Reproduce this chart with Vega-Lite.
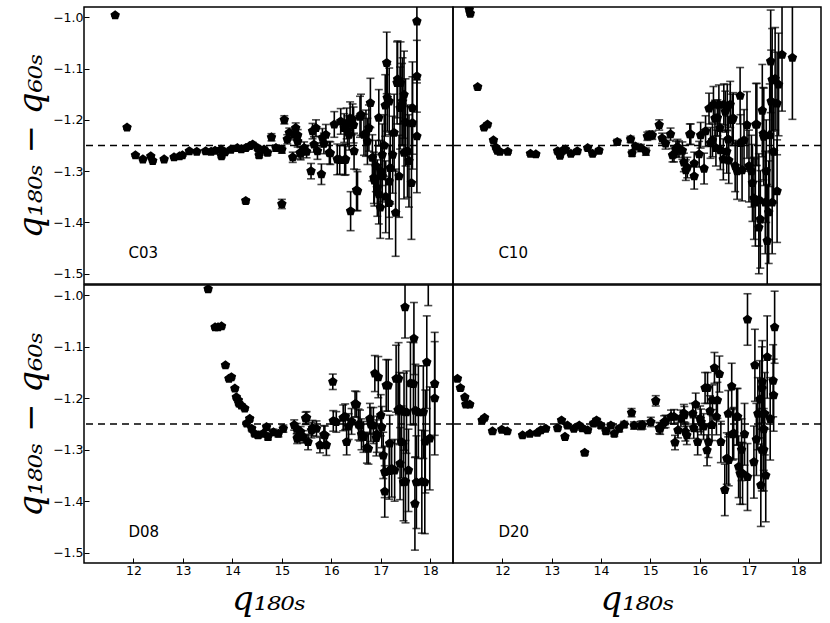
{
  "$schema": "https://vega.github.io/schema/vega-lite/v6.json",
  "background": "white",
  "padding": {"left": 13, "top": 6, "right": 5, "bottom": 5},
  "datasets": {
    "pts": [
      {"p":"C03","x":11.63,"y":-0.996,"e":0.002},{"p":"C03","x":11.87,"y":-1.215,"e":0.003},{"p":"C03","x":12.04,"y":-1.269,"e":0.002},
      {"p":"C03","x":12.19,"y":-1.277,"e":0.002},{"p":"C03","x":12.35,"y":-1.271,"e":0.002},{"p":"C03","x":12.39,"y":-1.280,"e":0.002},
      {"p":"C03","x":12.62,"y":-1.277,"e":0.002},{"p":"C03","x":12.82,"y":-1.273,"e":0.002},{"p":"C03","x":12.93,"y":-1.271,"e":0.002},
      {"p":"C03","x":12.99,"y":-1.269,"e":0.002},{"p":"C03","x":13.13,"y":-1.261,"e":0.002},{"p":"C03","x":13.28,"y":-1.262,"e":0.002},
      {"p":"C03","x":13.46,"y":-1.261,"e":0.003},{"p":"C03","x":13.57,"y":-1.262,"e":0.003},{"p":"C03","x":13.65,"y":-1.260,"e":0.003},
      {"p":"C03","x":13.77,"y":-1.258,"e":0.003},{"p":"C03","x":13.78,"y":-1.271,"e":0.003},{"p":"C03","x":13.85,"y":-1.263,"e":0.003},
      {"p":"C03","x":13.97,"y":-1.258,"e":0.003},{"p":"C03","x":14.10,"y":-1.255,"e":0.003},{"p":"C03","x":14.18,"y":-1.257,"e":0.003},
      {"p":"C03","x":14.27,"y":-1.255,"e":0.004},{"p":"C03","x":14.27,"y":-1.358,"e":0.004},{"p":"C03","x":14.35,"y":-1.251,"e":0.004},
      {"p":"C03","x":14.41,"y":-1.248,"e":0.004},{"p":"C03","x":14.51,"y":-1.255,"e":0.004},{"p":"C03","x":14.54,"y":-1.269,"e":0.005},
      {"p":"C03","x":14.64,"y":-1.258,"e":0.005},{"p":"C03","x":14.71,"y":-1.264,"e":0.005},{"p":"C03","x":14.79,"y":-1.234,"e":0.007},
      {"p":"C03","x":14.88,"y":-1.255,"e":0.006},{"p":"C03","x":15.00,"y":-1.258,"e":0.007},{"p":"C03","x":15.00,"y":-1.364,"e":0.009},
      {"p":"C03","x":15.05,"y":-1.200,"e":0.008},{"p":"C03","x":15.11,"y":-1.238,"e":0.009},{"p":"C03","x":15.15,"y":-1.225,"e":0.009},
      {"p":"C03","x":15.22,"y":-1.273,"e":0.010},{"p":"C03","x":15.25,"y":-1.229,"e":0.010},{"p":"C03","x":15.28,"y":-1.216,"e":0.010},
      {"p":"C03","x":15.32,"y":-1.242,"e":0.011},{"p":"C03","x":15.37,"y":-1.264,"e":0.012},{"p":"C03","x":15.45,"y":-1.255,"e":0.012},
      {"p":"C03","x":15.50,"y":-1.262,"e":0.012},{"p":"C03","x":15.59,"y":-1.300,"e":0.015},{"p":"C03","x":15.62,"y":-1.222,"e":0.015},
      {"p":"C03","x":15.65,"y":-1.248,"e":0.015},{"p":"C03","x":15.69,"y":-1.216,"e":0.016},{"p":"C03","x":15.72,"y":-1.261,"e":0.016},
      {"p":"C03","x":15.80,"y":-1.306,"e":0.020},{"p":"C03","x":15.82,"y":-1.235,"e":0.018},{"p":"C03","x":15.89,"y":-1.229,"e":0.020},
      {"p":"C03","x":15.96,"y":-1.264,"e":0.022},{"p":"C03","x":16.06,"y":-1.209,"e":0.025},{"p":"C03","x":16.12,"y":-1.277,"e":0.030},
      {"p":"C03","x":16.19,"y":-1.203,"e":0.025},{"p":"C03","x":16.26,"y":-1.216,"e":0.028},{"p":"C03","x":16.29,"y":-1.277,"e":0.030},
      {"p":"C03","x":16.33,"y":-1.222,"e":0.030},{"p":"C03","x":16.36,"y":-1.229,"e":0.030},{"p":"C03","x":16.39,"y":-1.378,"e":0.038},
      {"p":"C03","x":16.43,"y":-1.199,"e":0.030},{"p":"C03","x":16.46,"y":-1.261,"e":0.035},{"p":"C03","x":16.53,"y":-1.339,"e":0.038},
      {"p":"C03","x":16.60,"y":-1.190,"e":0.040},{"p":"C03","x":16.66,"y":-1.229,"e":0.040},{"p":"C03","x":16.73,"y":-1.242,"e":0.045},
      {"p":"C03","x":16.76,"y":-1.216,"e":0.045},{"p":"C03","x":16.79,"y":-1.167,"e":0.048},{"p":"C03","x":16.83,"y":-1.274,"e":0.045},
      {"p":"C03","x":16.86,"y":-1.313,"e":0.050},{"p":"C03","x":16.90,"y":-1.290,"e":0.050},{"p":"C03","x":16.93,"y":-1.333,"e":0.055},
      {"p":"C03","x":16.96,"y":-1.345,"e":0.058},{"p":"C03","x":16.99,"y":-1.371,"e":0.060},{"p":"C03","x":17.03,"y":-1.310,"e":0.060},
      {"p":"C03","x":17.07,"y":-1.250,"e":0.060},{"p":"C03","x":17.12,"y":-1.089,"e":0.060},{"p":"C03","x":17.13,"y":-1.157,"e":0.065},
      {"p":"C03","x":17.17,"y":-1.164,"e":0.065},{"p":"C03","x":17.17,"y":-1.320,"e":0.070},{"p":"C03","x":17.17,"y":-1.362,"e":0.070},
      {"p":"C03","x":17.24,"y":-1.268,"e":0.075},{"p":"C03","x":17.27,"y":-1.225,"e":0.075},{"p":"C03","x":17.30,"y":-1.381,"e":0.085},
      {"p":"C03","x":17.34,"y":-1.121,"e":0.075},{"p":"C03","x":17.37,"y":-1.310,"e":0.080},{"p":"C03","x":17.40,"y":-1.128,"e":0.080},
      {"p":"C03","x":17.43,"y":-1.170,"e":0.080},{"p":"C03","x":17.47,"y":-1.151,"e":0.085},{"p":"C03","x":17.50,"y":-1.205,"e":0.085},
      {"p":"C03","x":17.54,"y":-1.261,"e":0.090},{"p":"C03","x":17.57,"y":-1.280,"e":0.090},{"p":"C03","x":17.62,"y":-1.323,"e":0.110},
      {"p":"C03","x":17.64,"y":-1.177,"e":0.090},{"p":"C03","x":17.64,"y":-1.206,"e":0.090},{"p":"C03","x":17.73,"y":-1.115,"e":0.070},
      {"p":"C03","x":17.73,"y":-1.232,"e":0.110},{"p":"C03","x":17.73,"y":-1.008,"e":0.120},
      {"p":"C03","x":15.32,"y":-1.230,"e":0.011},{"p":"C03","x":15.38,"y":-1.266,"e":0.012},{"p":"C03","x":15.85,"y":-1.246,"e":0.020},
      {"p":"C03","x":15.98,"y":-1.265,"e":0.022},{"p":"C03","x":16.17,"y":-1.278,"e":0.028},{"p":"C03","x":16.27,"y":-1.278,"e":0.030},
      {"p":"C03","x":16.31,"y":-1.207,"e":0.030},{"p":"C03","x":16.38,"y":-1.197,"e":0.032},{"p":"C03","x":16.45,"y":-1.210,"e":0.035},
      {"p":"C03","x":16.51,"y":-1.337,"e":0.040},{"p":"C03","x":16.58,"y":-1.194,"e":0.040},{"p":"C03","x":16.70,"y":-1.226,"e":0.045},
      {"p":"C03","x":16.87,"y":-1.318,"e":0.050},{"p":"C03","x":16.96,"y":-1.196,"e":0.055},{"p":"C03","x":17.03,"y":-1.268,"e":0.060},
      {"p":"C03","x":17.09,"y":-1.172,"e":0.060},{"p":"C03","x":17.19,"y":-1.294,"e":0.070},{"p":"C03","x":17.33,"y":-1.128,"e":0.080},
      {"p":"C03","x":17.39,"y":-1.177,"e":0.080},{"p":"C03","x":17.44,"y":-1.164,"e":0.085},{"p":"C03","x":17.47,"y":-1.264,"e":0.090},
      {"p":"C03","x":17.00,"y":-1.300,"e":0.060},{"p":"C03","x":17.10,"y":-1.350,"e":0.070},

      {"p":"C10","x":11.33,"y":-0.985,"e":0.003},{"p":"C10","x":11.35,"y":-0.993,"e":0.003},{"p":"C10","x":11.50,"y":-1.136,"e":0.003},
      {"p":"C10","x":11.63,"y":-1.215,"e":0.003},{"p":"C10","x":11.70,"y":-1.209,"e":0.003},{"p":"C10","x":11.82,"y":-1.240,"e":0.003},
      {"p":"C10","x":11.87,"y":-1.254,"e":0.003},{"p":"C10","x":11.90,"y":-1.260,"e":0.003},{"p":"C10","x":11.95,"y":-1.262,"e":0.003},
      {"p":"C10","x":12.11,"y":-1.262,"e":0.003},{"p":"C10","x":12.57,"y":-1.266,"e":0.003},{"p":"C10","x":12.68,"y":-1.267,"e":0.003},
      {"p":"C10","x":13.12,"y":-1.261,"e":0.003},{"p":"C10","x":13.17,"y":-1.270,"e":0.003},{"p":"C10","x":13.22,"y":-1.260,"e":0.003},
      {"p":"C10","x":13.28,"y":-1.258,"e":0.003},{"p":"C10","x":13.39,"y":-1.266,"e":0.003},{"p":"C10","x":13.52,"y":-1.261,"e":0.003},
      {"p":"C10","x":13.73,"y":-1.255,"e":0.003},{"p":"C10","x":13.83,"y":-1.266,"e":0.003},{"p":"C10","x":13.96,"y":-1.260,"e":0.004},
      {"p":"C10","x":14.33,"y":-1.243,"e":0.005},{"p":"C10","x":14.60,"y":-1.238,"e":0.006},{"p":"C10","x":14.63,"y":-1.265,"e":0.006},
      {"p":"C10","x":14.70,"y":-1.252,"e":0.006},{"p":"C10","x":14.81,"y":-1.255,"e":0.007},{"p":"C10","x":14.91,"y":-1.262,"e":0.007},
      {"p":"C10","x":14.94,"y":-1.232,"e":0.008},{"p":"C10","x":15.04,"y":-1.230,"e":0.008},{"p":"C10","x":15.18,"y":-1.210,"e":0.010},
      {"p":"C10","x":15.24,"y":-1.236,"e":0.010},{"p":"C10","x":15.31,"y":-1.246,"e":0.011},{"p":"C10","x":15.41,"y":-1.228,"e":0.012},
      {"p":"C10","x":15.48,"y":-1.267,"e":0.015},{"p":"C10","x":15.52,"y":-1.257,"e":0.015},{"p":"C10","x":15.58,"y":-1.257,"e":0.016},
      {"p":"C10","x":15.65,"y":-1.260,"e":0.017},{"p":"C10","x":15.68,"y":-1.283,"e":0.018},{"p":"C10","x":15.75,"y":-1.293,"e":0.020},
      {"p":"C10","x":15.80,"y":-1.228,"e":0.020},{"p":"C10","x":15.89,"y":-1.285,"e":0.022},{"p":"C10","x":15.89,"y":-1.310,"e":0.025},
      {"p":"C10","x":15.99,"y":-1.267,"e":0.025},{"p":"C10","x":16.02,"y":-1.230,"e":0.025},{"p":"C10","x":16.09,"y":-1.295,"e":0.030},
      {"p":"C10","x":16.12,"y":-1.222,"e":0.030},{"p":"C10","x":16.19,"y":-1.178,"e":0.030},{"p":"C10","x":16.22,"y":-1.245,"e":0.030},
      {"p":"C10","x":16.28,"y":-1.170,"e":0.035},{"p":"C10","x":16.31,"y":-1.197,"e":0.035},{"p":"C10","x":16.33,"y":-1.255,"e":0.035},
      {"p":"C10","x":16.39,"y":-1.170,"e":0.038},{"p":"C10","x":16.41,"y":-1.216,"e":0.038},{"p":"C10","x":16.48,"y":-1.277,"e":0.040},
      {"p":"C10","x":16.52,"y":-1.184,"e":0.040},{"p":"C10","x":16.55,"y":-1.262,"e":0.042},{"p":"C10","x":16.58,"y":-1.238,"e":0.045},
      {"p":"C10","x":16.62,"y":-1.170,"e":0.045},{"p":"C10","x":16.68,"y":-1.197,"e":0.050},{"p":"C10","x":16.72,"y":-1.290,"e":0.050},
      {"p":"C10","x":16.76,"y":-1.300,"e":0.055},{"p":"C10","x":16.82,"y":-1.153,"e":0.055},{"p":"C10","x":16.83,"y":-1.245,"e":0.055},
      {"p":"C10","x":16.86,"y":-1.298,"e":0.060},{"p":"C10","x":16.96,"y":-1.210,"e":0.065},{"p":"C10","x":17.00,"y":-1.290,"e":0.070},
      {"p":"C10","x":17.07,"y":-1.323,"e":0.075},{"p":"C10","x":17.10,"y":-1.353,"e":0.080},{"p":"C10","x":17.13,"y":-1.361,"e":0.085},
      {"p":"C10","x":17.14,"y":-1.209,"e":0.080},{"p":"C10","x":17.20,"y":-1.410,"e":0.090},{"p":"C10","x":17.23,"y":-1.394,"e":0.095},
      {"p":"C10","x":17.27,"y":-1.182,"e":0.090},{"p":"C10","x":17.30,"y":-1.233,"e":0.095},{"p":"C10","x":17.33,"y":-1.361,"e":0.100},
      {"p":"C10","x":17.37,"y":-1.436,"e":0.110},{"p":"C10","x":17.40,"y":-1.380,"e":0.100},{"p":"C10","x":17.44,"y":-1.086,"e":0.100},
      {"p":"C10","x":17.45,"y":-1.164,"e":0.100},{"p":"C10","x":17.47,"y":-1.122,"e":0.100},{"p":"C10","x":17.47,"y":-1.361,"e":0.100},
      {"p":"C10","x":17.50,"y":-1.262,"e":0.100},{"p":"C10","x":17.57,"y":-1.339,"e":0.100},{"p":"C10","x":17.60,"y":-1.131,"e":0.100},
      {"p":"C10","x":17.67,"y":-1.073,"e":0.110},{"p":"C10","x":17.88,"y":-1.079,"e":0.120},
      {"p":"C10","x":14.98,"y":-1.230,"e":0.008},{"p":"C10","x":15.45,"y":-1.269,"e":0.013},{"p":"C10","x":15.55,"y":-1.253,"e":0.015},
      {"p":"C10","x":15.72,"y":-1.298,"e":0.020},{"p":"C10","x":15.82,"y":-1.228,"e":0.020},{"p":"C10","x":16.26,"y":-1.240,"e":0.032},
      {"p":"C10","x":16.36,"y":-1.196,"e":0.035},{"p":"C10","x":16.42,"y":-1.259,"e":0.038},{"p":"C10","x":16.49,"y":-1.170,"e":0.040},
      {"p":"C10","x":16.56,"y":-1.176,"e":0.045},{"p":"C10","x":16.59,"y":-1.279,"e":0.045},{"p":"C10","x":16.66,"y":-1.200,"e":0.050},
      {"p":"C10","x":16.90,"y":-1.240,"e":0.060},{"p":"C10","x":17.05,"y":-1.300,"e":0.070},{"p":"C10","x":17.16,"y":-1.209,"e":0.080},
      {"p":"C10","x":17.20,"y":-1.356,"e":0.090},{"p":"C10","x":17.29,"y":-1.227,"e":0.090},{"p":"C10","x":17.35,"y":-1.300,"e":0.100},
      {"p":"C10","x":17.53,"y":-1.120,"e":0.100},{"p":"C10","x":17.57,"y":-1.168,"e":0.100},{"p":"C10","x":17.42,"y":-1.230,"e":0.100},

      {"p":"D08","x":13.51,"y":-0.988,"e":0.003},{"p":"D08","x":13.65,"y":-1.062,"e":0.003},{"p":"D08","x":13.71,"y":-1.062,"e":0.003},
      {"p":"D08","x":13.78,"y":-1.060,"e":0.003},{"p":"D08","x":13.86,"y":-1.136,"e":0.003},{"p":"D08","x":13.93,"y":-1.162,"e":0.003},
      {"p":"D08","x":13.98,"y":-1.159,"e":0.003},{"p":"D08","x":14.05,"y":-1.181,"e":0.003},{"p":"D08","x":14.08,"y":-1.198,"e":0.003},
      {"p":"D08","x":14.12,"y":-1.204,"e":0.003},{"p":"D08","x":14.13,"y":-1.210,"e":0.003},{"p":"D08","x":14.18,"y":-1.214,"e":0.003},
      {"p":"D08","x":14.25,"y":-1.220,"e":0.003},{"p":"D08","x":14.29,"y":-1.249,"e":0.004},{"p":"D08","x":14.35,"y":-1.240,"e":0.004},
      {"p":"D08","x":14.39,"y":-1.259,"e":0.004},{"p":"D08","x":14.45,"y":-1.269,"e":0.004},{"p":"D08","x":14.52,"y":-1.272,"e":0.005},
      {"p":"D08","x":14.62,"y":-1.269,"e":0.005},{"p":"D08","x":14.69,"y":-1.256,"e":0.005},{"p":"D08","x":14.72,"y":-1.275,"e":0.006},
      {"p":"D08","x":14.83,"y":-1.266,"e":0.006},{"p":"D08","x":14.93,"y":-1.269,"e":0.006},{"p":"D08","x":15.03,"y":-1.259,"e":0.007},
      {"p":"D08","x":15.30,"y":-1.259,"e":0.010},{"p":"D08","x":15.33,"y":-1.275,"e":0.010},{"p":"D08","x":15.38,"y":-1.265,"e":0.010},
      {"p":"D08","x":15.43,"y":-1.275,"e":0.012},{"p":"D08","x":15.50,"y":-1.238,"e":0.012},{"p":"D08","x":15.53,"y":-1.285,"e":0.015},
      {"p":"D08","x":15.60,"y":-1.262,"e":0.015},{"p":"D08","x":15.70,"y":-1.259,"e":0.015},{"p":"D08","x":15.77,"y":-1.291,"e":0.015},
      {"p":"D08","x":15.87,"y":-1.272,"e":0.018},{"p":"D08","x":15.90,"y":-1.291,"e":0.020},{"p":"D08","x":16.03,"y":-1.168,"e":0.015},
      {"p":"D08","x":16.10,"y":-1.246,"e":0.020},{"p":"D08","x":16.28,"y":-1.236,"e":0.025},{"p":"D08","x":16.31,"y":-1.285,"e":0.025},
      {"p":"D08","x":16.35,"y":-1.255,"e":0.025},{"p":"D08","x":16.41,"y":-1.245,"e":0.025},{"p":"D08","x":16.51,"y":-1.212,"e":0.025},
      {"p":"D08","x":16.58,"y":-1.253,"e":0.030},{"p":"D08","x":16.65,"y":-1.275,"e":0.030},{"p":"D08","x":16.75,"y":-1.298,"e":0.030},
      {"p":"D08","x":16.78,"y":-1.240,"e":0.030},{"p":"D08","x":16.85,"y":-1.253,"e":0.035},{"p":"D08","x":16.88,"y":-1.152,"e":0.035},
      {"p":"D08","x":16.92,"y":-1.270,"e":0.035},{"p":"D08","x":16.95,"y":-1.159,"e":0.040},{"p":"D08","x":17.02,"y":-1.256,"e":0.040},
      {"p":"D08","x":17.05,"y":-1.311,"e":0.045},{"p":"D08","x":17.08,"y":-1.343,"e":0.050},{"p":"D08","x":17.08,"y":-1.381,"e":0.050},
      {"p":"D08","x":17.15,"y":-1.175,"e":0.050},{"p":"D08","x":17.18,"y":-1.288,"e":0.055},{"p":"D08","x":17.22,"y":-1.337,"e":0.055},
      {"p":"D08","x":17.28,"y":-1.340,"e":0.060},{"p":"D08","x":17.35,"y":-1.223,"e":0.065},{"p":"D08","x":17.36,"y":-1.162,"e":0.070},
      {"p":"D08","x":17.39,"y":-1.327,"e":0.070},{"p":"D08","x":17.42,"y":-1.285,"e":0.070},{"p":"D08","x":17.46,"y":-1.363,"e":0.075},
      {"p":"D08","x":17.49,"y":-1.023,"e":0.060},{"p":"D08","x":17.52,"y":-1.227,"e":0.080},{"p":"D08","x":17.56,"y":-1.340,"e":0.080},
      {"p":"D08","x":17.66,"y":-1.172,"e":0.080},{"p":"D08","x":17.67,"y":-1.084,"e":0.070},{"p":"D08","x":17.69,"y":-1.405,"e":0.090},
      {"p":"D08","x":17.72,"y":-1.363,"e":0.090},{"p":"D08","x":17.76,"y":-1.227,"e":0.090},{"p":"D08","x":17.86,"y":-1.227,"e":0.090},
      {"p":"D08","x":17.89,"y":-1.363,"e":0.100},{"p":"D08","x":17.93,"y":-1.130,"e":0.090},{"p":"D08","x":17.96,"y":-0.950,"e":0.070},
      {"p":"D08","x":17.99,"y":-1.278,"e":0.100},{"p":"D08","x":18.09,"y":-1.172,"e":0.100},{"p":"D08","x":18.09,"y":-1.200,"e":0.110},
      {"p":"D08","x":15.25,"y":-1.252,"e":0.010},{"p":"D08","x":15.31,"y":-1.278,"e":0.010},{"p":"D08","x":15.48,"y":-1.239,"e":0.012},
      {"p":"D08","x":15.62,"y":-1.258,"e":0.015},{"p":"D08","x":15.85,"y":-1.271,"e":0.018},{"p":"D08","x":16.04,"y":-1.244,"e":0.020},
      {"p":"D08","x":16.24,"y":-1.238,"e":0.025},{"p":"D08","x":16.48,"y":-1.211,"e":0.025},{"p":"D08","x":16.55,"y":-1.251,"e":0.030},
      {"p":"D08","x":16.61,"y":-1.270,"e":0.030},{"p":"D08","x":16.72,"y":-1.296,"e":0.030},{"p":"D08","x":16.80,"y":-1.251,"e":0.033},
      {"p":"D08","x":16.91,"y":-1.277,"e":0.035},{"p":"D08","x":17.00,"y":-1.233,"e":0.040},{"p":"D08","x":17.11,"y":-1.175,"e":0.050},
      {"p":"D08","x":17.17,"y":-1.341,"e":0.055},{"p":"D08","x":17.31,"y":-1.162,"e":0.065},{"p":"D08","x":17.38,"y":-1.220,"e":0.070},
      {"p":"D08","x":17.47,"y":-1.226,"e":0.075},{"p":"D08","x":17.50,"y":-1.362,"e":0.080},{"p":"D08","x":17.60,"y":-1.171,"e":0.080},
      {"p":"D08","x":17.70,"y":-1.224,"e":0.090},{"p":"D08","x":17.83,"y":-1.362,"e":0.100},{"p":"D08","x":17.90,"y":-1.284,"e":0.100},

      {"p":"D20","x":11.09,"y":-1.162,"e":0.003},{"p":"D20","x":11.15,"y":-1.180,"e":0.003},{"p":"D20","x":11.24,"y":-1.198,"e":0.003},
      {"p":"D20","x":11.26,"y":-1.212,"e":0.003},{"p":"D20","x":11.34,"y":-1.212,"e":0.003},{"p":"D20","x":11.59,"y":-1.243,"e":0.003},
      {"p":"D20","x":11.64,"y":-1.238,"e":0.003},{"p":"D20","x":11.80,"y":-1.264,"e":0.003},{"p":"D20","x":11.99,"y":-1.261,"e":0.003},
      {"p":"D20","x":12.10,"y":-1.264,"e":0.003},{"p":"D20","x":12.41,"y":-1.272,"e":0.003},{"p":"D20","x":12.56,"y":-1.269,"e":0.003},
      {"p":"D20","x":12.71,"y":-1.267,"e":0.003},{"p":"D20","x":12.78,"y":-1.262,"e":0.003},{"p":"D20","x":12.88,"y":-1.259,"e":0.003},
      {"p":"D20","x":13.12,"y":-1.258,"e":0.003},{"p":"D20","x":13.20,"y":-1.243,"e":0.003},{"p":"D20","x":13.27,"y":-1.275,"e":0.003},
      {"p":"D20","x":13.32,"y":-1.253,"e":0.003},{"p":"D20","x":13.45,"y":-1.259,"e":0.003},{"p":"D20","x":13.56,"y":-1.253,"e":0.004},
      {"p":"D20","x":13.62,"y":-1.258,"e":0.004},{"p":"D20","x":13.67,"y":-1.306,"e":0.004},{"p":"D20","x":13.73,"y":-1.262,"e":0.004},
      {"p":"D20","x":13.85,"y":-1.249,"e":0.004},{"p":"D20","x":13.91,"y":-1.243,"e":0.004},{"p":"D20","x":14.00,"y":-1.253,"e":0.005},
      {"p":"D20","x":14.10,"y":-1.264,"e":0.005},{"p":"D20","x":14.20,"y":-1.253,"e":0.005},{"p":"D20","x":14.27,"y":-1.269,"e":0.005},
      {"p":"D20","x":14.37,"y":-1.259,"e":0.006},{"p":"D20","x":14.47,"y":-1.251,"e":0.006},{"p":"D20","x":14.62,"y":-1.228,"e":0.008},
      {"p":"D20","x":14.67,"y":-1.253,"e":0.007},{"p":"D20","x":14.81,"y":-1.253,"e":0.008},{"p":"D20","x":15.01,"y":-1.246,"e":0.009},
      {"p":"D20","x":15.11,"y":-1.205,"e":0.010},{"p":"D20","x":15.20,"y":-1.259,"e":0.011},{"p":"D20","x":15.28,"y":-1.246,"e":0.012},
      {"p":"D20","x":15.42,"y":-1.236,"e":0.013},{"p":"D20","x":15.50,"y":-1.286,"e":0.014},{"p":"D20","x":15.56,"y":-1.262,"e":0.015},
      {"p":"D20","x":15.62,"y":-1.239,"e":0.016},{"p":"D20","x":15.69,"y":-1.233,"e":0.017},{"p":"D20","x":15.74,"y":-1.272,"e":0.018},
      {"p":"D20","x":15.86,"y":-1.230,"e":0.020},{"p":"D20","x":15.92,"y":-1.212,"e":0.022},{"p":"D20","x":15.96,"y":-1.285,"e":0.025},
      {"p":"D20","x":16.03,"y":-1.246,"e":0.025},{"p":"D20","x":16.08,"y":-1.255,"e":0.025},{"p":"D20","x":16.15,"y":-1.301,"e":0.030},
      {"p":"D20","x":16.16,"y":-1.180,"e":0.030},{"p":"D20","x":16.21,"y":-1.225,"e":0.030},{"p":"D20","x":16.25,"y":-1.252,"e":0.030},
      {"p":"D20","x":16.30,"y":-1.141,"e":0.030},{"p":"D20","x":16.36,"y":-1.204,"e":0.035},{"p":"D20","x":16.40,"y":-1.153,"e":0.035},
      {"p":"D20","x":16.43,"y":-1.285,"e":0.040},{"p":"D20","x":16.51,"y":-1.378,"e":0.050},{"p":"D20","x":16.55,"y":-1.317,"e":0.050},
      {"p":"D20","x":16.58,"y":-1.230,"e":0.045},{"p":"D20","x":16.65,"y":-1.177,"e":0.045},{"p":"D20","x":16.67,"y":-1.270,"e":0.050},
      {"p":"D20","x":16.77,"y":-1.236,"e":0.055},{"p":"D20","x":16.82,"y":-1.346,"e":0.060},{"p":"D20","x":16.87,"y":-1.346,"e":0.060},
      {"p":"D20","x":16.91,"y":-1.270,"e":0.060},{"p":"D20","x":16.97,"y":-1.353,"e":0.065},{"p":"D20","x":16.97,"y":-1.047,"e":0.050},
      {"p":"D20","x":17.10,"y":-1.324,"e":0.070},{"p":"D20","x":17.12,"y":-1.136,"e":0.070},{"p":"D20","x":17.18,"y":-1.230,"e":0.070},
      {"p":"D20","x":17.22,"y":-1.202,"e":0.075},{"p":"D20","x":17.24,"y":-1.369,"e":0.080},{"p":"D20","x":17.26,"y":-1.300,"e":0.080},
      {"p":"D20","x":17.27,"y":-1.168,"e":0.080},{"p":"D20","x":17.30,"y":-1.260,"e":0.080},{"p":"D20","x":17.34,"y":-1.350,"e":0.090},
      {"p":"D20","x":17.37,"y":-1.120,"e":0.080},{"p":"D20","x":17.43,"y":-1.240,"e":0.080},{"p":"D20","x":17.49,"y":-1.166,"e":0.070},
      {"p":"D20","x":17.50,"y":-1.194,"e":0.070},{"p":"D20","x":17.52,"y":-1.062,"e":0.070},
      {"p":"D20","x":14.84,"y":-1.252,"e":0.008},{"p":"D20","x":15.18,"y":-1.258,"e":0.011},{"p":"D20","x":15.31,"y":-1.245,"e":0.012},
      {"p":"D20","x":15.48,"y":-1.236,"e":0.014},{"p":"D20","x":15.68,"y":-1.229,"e":0.017},{"p":"D20","x":15.71,"y":-1.265,"e":0.018},
      {"p":"D20","x":15.88,"y":-1.258,"e":0.020},{"p":"D20","x":16.01,"y":-1.240,"e":0.025},{"p":"D20","x":16.11,"y":-1.180,"e":0.030},
      {"p":"D20","x":16.18,"y":-1.285,"e":0.030},{"p":"D20","x":16.26,"y":-1.204,"e":0.030},{"p":"D20","x":16.34,"y":-1.236,"e":0.035},
      {"p":"D20","x":16.59,"y":-1.320,"e":0.050},{"p":"D20","x":16.69,"y":-1.268,"e":0.050},{"p":"D20","x":16.75,"y":-1.236,"e":0.055},
      {"p":"D20","x":16.79,"y":-1.333,"e":0.060},{"p":"D20","x":16.85,"y":-1.300,"e":0.060},{"p":"D20","x":17.15,"y":-1.280,"e":0.070},
      {"p":"D20","x":17.26,"y":-1.180,"e":0.080},{"p":"D20","x":17.30,"y":-1.300,"e":0.080},{"p":"D20","x":17.32,"y":-1.230,"e":0.080}
    ]
  },
  "spacing": -2,
  "vconcat": [
    {
      "bounds": "flush",
      "spacing": 0,
      "hconcat": [
        {
          "width": 369, "height": 277,
          "layer": [
            {"data": {"name": "pts"}, "transform": [{"filter": "datum.p === 'C03'"}],
             "mark": {"type": "errorbar", "ticks": {"size": 8, "color": "black", "strokeWidth": 1.3}, "rule": {"strokeWidth": 1.6}, "thickness": 1.6, "color": "black", "clip": true},
             "encoding": {
               "x": {"field": "x", "type": "quantitative", "scale": {"domain": [11, 18.46], "nice": false, "zero": false}, "axis": null},
               "y": {"field": "y", "type": "quantitative", "scale": {"domain": [-1.52, -0.98], "nice": false, "zero": false},
                     "axis": {"values": [-1.5, -1.4, -1.3, -1.2, -1.1, -1.0], "format": ".1f", "title": "q₁₈₀ₛ − q₆₀ₛ"}},
               "yError": {"field": "e"}}},
            {"data": {"name": "pts"}, "transform": [{"filter": "datum.p === 'C03'"}],
             "mark": {"type": "point", "shape": "M0,-1L0.951,-0.309L0.588,0.809L-0.588,0.809L-0.951,-0.309Z", "filled": true, "size": 100, "color": "black", "opacity": 1, "clip": true},
             "encoding": {
               "x": {"field": "x", "type": "quantitative", "scale": {"domain": [11, 18.46], "nice": false, "zero": false}},
               "y": {"field": "y", "type": "quantitative", "scale": {"domain": [-1.52, -0.98], "nice": false, "zero": false}}}},
            {"data": {"values": [{"level": -1.25}]},
             "mark": {"type": "rule", "strokeDash": [7, 5], "strokeWidth": 1.3, "color": "black"},
             "encoding": {"y": {"field": "level", "type": "quantitative", "scale": {"domain": [-1.52, -0.98], "nice": false, "zero": false}}}},
            {"data": {"values": [{"name": "C03"}]},
             "mark": {"type": "text", "align": "left", "baseline": "middle", "fontSize": 15, "font": "DejaVu Sans", "color": "black"},
             "encoding": {"x": {"datum": 11.9, "type": "quantitative"}, "y": {"datum": -1.46, "type": "quantitative"}, "text": {"field": "name"}}}
          ]
        },
        {
          "width": 368, "height": 277,
          "layer": [
            {"data": {"name": "pts"}, "transform": [{"filter": "datum.p === 'C10'"}],
             "mark": {"type": "errorbar", "ticks": {"size": 8, "color": "black", "strokeWidth": 1.3}, "rule": {"strokeWidth": 1.6}, "thickness": 1.6, "color": "black", "clip": true},
             "encoding": {
               "x": {"field": "x", "type": "quantitative", "scale": {"domain": [11, 18.46], "nice": false, "zero": false}, "axis": null},
               "y": {"field": "y", "type": "quantitative", "scale": {"domain": [-1.52, -0.98], "nice": false, "zero": false}, "axis": null},
               "yError": {"field": "e"}}},
            {"data": {"name": "pts"}, "transform": [{"filter": "datum.p === 'C10'"}],
             "mark": {"type": "point", "shape": "M0,-1L0.951,-0.309L0.588,0.809L-0.588,0.809L-0.951,-0.309Z", "filled": true, "size": 100, "color": "black", "opacity": 1, "clip": true},
             "encoding": {
               "x": {"field": "x", "type": "quantitative", "scale": {"domain": [11, 18.46], "nice": false, "zero": false}},
               "y": {"field": "y", "type": "quantitative", "scale": {"domain": [-1.52, -0.98], "nice": false, "zero": false}}}},
            {"data": {"values": [{"level": -1.25}]},
             "mark": {"type": "rule", "strokeDash": [7, 5], "strokeWidth": 1.3, "color": "black"},
             "encoding": {"y": {"field": "level", "type": "quantitative", "scale": {"domain": [-1.52, -0.98], "nice": false, "zero": false}}}},
            {"data": {"values": [{"name": "C10"}]},
             "mark": {"type": "text", "align": "left", "baseline": "middle", "fontSize": 15, "font": "DejaVu Sans", "color": "black"},
             "encoding": {"x": {"datum": 11.92, "type": "quantitative"}, "y": {"datum": -1.46, "type": "quantitative"}, "text": {"field": "name"}}}
          ]
        }
      ]
    },
    {
      "bounds": "flush",
      "spacing": 0,
      "hconcat": [
        {
          "width": 369, "height": 278,
          "layer": [
            {"data": {"name": "pts"}, "transform": [{"filter": "datum.p === 'D08'"}],
             "mark": {"type": "errorbar", "ticks": {"size": 8, "color": "black", "strokeWidth": 1.3}, "rule": {"strokeWidth": 1.6}, "thickness": 1.6, "color": "black", "clip": true},
             "encoding": {
               "x": {"field": "x", "type": "quantitative", "scale": {"domain": [11, 18.46], "nice": false, "zero": false},
                     "axis": {"values": [12, 13, 14, 15, 16, 17, 18], "title": "q₁₈₀ₛ", "titlePadding": 6}},
               "y": {"field": "y", "type": "quantitative", "scale": {"domain": [-1.52, -0.98], "nice": false, "zero": false},
                     "axis": {"values": [-1.5, -1.4, -1.3, -1.2, -1.1, -1.0], "format": ".1f", "title": "q₁₈₀ₛ − q₆₀ₛ"}},
               "yError": {"field": "e"}}},
            {"data": {"name": "pts"}, "transform": [{"filter": "datum.p === 'D08'"}],
             "mark": {"type": "point", "shape": "M0,-1L0.951,-0.309L0.588,0.809L-0.588,0.809L-0.951,-0.309Z", "filled": true, "size": 100, "color": "black", "opacity": 1, "clip": true},
             "encoding": {
               "x": {"field": "x", "type": "quantitative", "scale": {"domain": [11, 18.46], "nice": false, "zero": false}},
               "y": {"field": "y", "type": "quantitative", "scale": {"domain": [-1.52, -0.98], "nice": false, "zero": false}}}},
            {"data": {"values": [{"level": -1.25}]},
             "mark": {"type": "rule", "strokeDash": [7, 5], "strokeWidth": 1.3, "color": "black"},
             "encoding": {"y": {"field": "level", "type": "quantitative", "scale": {"domain": [-1.52, -0.98], "nice": false, "zero": false}}}},
            {"data": {"values": [{"name": "D08"}]},
             "mark": {"type": "text", "align": "left", "baseline": "middle", "fontSize": 15, "font": "DejaVu Sans", "color": "black"},
             "encoding": {"x": {"datum": 11.9, "type": "quantitative"}, "y": {"datum": -1.46, "type": "quantitative"}, "text": {"field": "name"}}}
          ]
        },
        {
          "width": 368, "height": 278,
          "layer": [
            {"data": {"name": "pts"}, "transform": [{"filter": "datum.p === 'D20'"}],
             "mark": {"type": "errorbar", "ticks": {"size": 8, "color": "black", "strokeWidth": 1.3}, "rule": {"strokeWidth": 1.6}, "thickness": 1.6, "color": "black", "clip": true},
             "encoding": {
               "x": {"field": "x", "type": "quantitative", "scale": {"domain": [11, 18.46], "nice": false, "zero": false},
                     "axis": {"values": [12, 13, 14, 15, 16, 17, 18], "title": "q₁₈₀ₛ", "titlePadding": 6}},
               "y": {"field": "y", "type": "quantitative", "scale": {"domain": [-1.52, -0.98], "nice": false, "zero": false}, "axis": null},
               "yError": {"field": "e"}}},
            {"data": {"name": "pts"}, "transform": [{"filter": "datum.p === 'D20'"}],
             "mark": {"type": "point", "shape": "M0,-1L0.951,-0.309L0.588,0.809L-0.588,0.809L-0.951,-0.309Z", "filled": true, "size": 100, "color": "black", "opacity": 1, "clip": true},
             "encoding": {
               "x": {"field": "x", "type": "quantitative", "scale": {"domain": [11, 18.46], "nice": false, "zero": false}},
               "y": {"field": "y", "type": "quantitative", "scale": {"domain": [-1.52, -0.98], "nice": false, "zero": false}}}},
            {"data": {"values": [{"level": -1.25}]},
             "mark": {"type": "rule", "strokeDash": [7, 5], "strokeWidth": 1.3, "color": "black"},
             "encoding": {"y": {"field": "level", "type": "quantitative", "scale": {"domain": [-1.52, -0.98], "nice": false, "zero": false}}}},
            {"data": {"values": [{"name": "D20"}]},
             "mark": {"type": "text", "align": "left", "baseline": "middle", "fontSize": 15, "font": "DejaVu Sans", "color": "black"},
             "encoding": {"x": {"datum": 11.92, "type": "quantitative"}, "y": {"datum": -1.46, "type": "quantitative"}, "text": {"field": "name"}}}
          ]
        }
      ]
    }
  ],
  "config": {
    "view": {"stroke": "black", "strokeWidth": 1.5},
    "concat": {"spacing": 0},
    "axis": {
      "domain": false, "grid": false,
      "tickSize": -5, "tickColor": "black", "tickWidth": 1,
      "labelFont": "DejaVu Sans", "labelFontSize": 12.5, "labelColor": "black", "labelPadding": 6,
      "titleFont": "DejaVu Serif", "titleFontStyle": "italic", "titleFontWeight": "normal", "titleFontSize": 34,
      "titleColor": "black", "titlePadding": 4
    }
  }
}
